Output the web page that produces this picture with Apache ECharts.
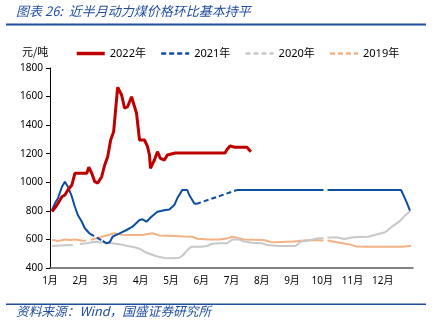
<!DOCTYPE html>
<html>
<head>
<meta charset="utf-8">
<script src="https://cdn.jsdelivr.net/npm/echarts@6/dist/echarts.min.js"></script>
<style>
html,body{margin:0;padding:0;background:#fff;}
#chart{width:435px;height:333px;}
</style>
</head>
<body>
<div id="chart"></div>
<script>
// ---- data (x = day of year) ----
const monthLabels = ['1月','2月','3月','4月','5月','6月','7月','8月','9月','10月','11月','12月'];
const seriesNames = ['2022年','2021年','2020年','2019年'];
const titleText = '图表 26:  近半月动力煤价格环比基本持平';
const sourceText = '资料来源：Wind，国盛证券研究所';
const unitText = '元/吨';

const days2022 = [2,7,12,15,18,22,25,28,37,39,42,45,48,52,55,58,61,64,68,72,75,78,82,84,87,90,95,98,100,101,102,105,108,111,115,118,123,126,150,176,178,181,186,198,202];
const price2022 = [794,841,899,911,946,981,1063,1063,1063,1105,1063,1004,995,1039,1121,1179,1296,1354,1665,1611,1518,1529,1599,1590,1483,1296,1296,1251,1191,1098,1098,1156,1214,1168,1156,1191,1200,1205,1205,1205,1230,1254,1245,1245,1214];

const days2021 = [2,5,8,12,15,18,22,25,28,32,35,40,46,53,57,60,63,70,77,83,90,93,97,102,108,116,120,125,128,133,138,140,145,147,167,188,230,275,277,279,320,353,358,362];
const price2021 = [806,853,888,969,1004,969,899,829,771,724,678,640,null,590,573,580,619,643,666,689,736,741,724,759,794,806,810,841,888,946,946,911,853,848,null,946,946,946,null,946,946,946,870,801];
const days2021Gap = [40,53,100,147,188];
const price2021Gap = [640,590,null,848,946];

const days2020 = [2,10,23,26,30,37,45,55,62,70,78,85,90,95,100,107,115,125,130,134,138,142,152,158,162,170,178,183,190,195,203,213,218,230,247,252,260,270,275,277,279,288,296,305,320,330,337,344,352,357,362];
const price2020 = [554,557,561,null,568,573,584,577,573,566,554,545,535,514,500,482,470,468,472,491,525,549,549,554,568,573,573,598,601,585,577,573,561,554,554,584,593,608,608,null,612,615,603,615,619,638,650,690,730,768,797];

const days2019 = [2,8,15,20,25,32,36,38,41,47,52,57,65,72,80,93,100,103,110,125,135,143,148,160,170,178,183,188,195,205,215,222,228,237,245,255,265,275,277,279,290,300,308,320,340,355,363];
const price2019 = [598,588,599,596,600,592,590,null,598,608,619,628,643,633,631,631,640,643,628,624,621,619,605,600,599,606,619,612,600,597,596,582,580,584,586,592,596,592,null,592,579,567,551,549,549,549,556];

const yMin = 400, yMax = 1800, yStep = 200;

function zip(d, v){ return d.map((x,i)=>[x, v[i] === null ? '-' : v[i]]); }

const FONT = '"Noto Sans","Noto Sans CJK SC",sans-serif';
const BLUE_T = '#1f4e9e';
const C22 = '#c00000', C21 = '#0d4ea3', C20 = '#c8c8c8', C19 = '#f4b183';

const chart = echarts.init(document.getElementById('chart'), null, {renderer:'canvas'});
chart.setOption({
  animation:false,
  backgroundColor:'#fff',
  textStyle:{fontFamily:FONT},
  grid:{left:50,right:22,top:68,bottom:65,containLabel:false,outerBoundsMode:'none'},
  legend:{
    left:70, top:43, itemWidth:28, itemHeight:10, itemGap:14,
    itemStyle:{opacity:0},
    textStyle:{fontSize:11,color:'#000',fontFamily:FONT},
    data:[
      {name:seriesNames[0], lineStyle:{width:3.5}},
      {name:seriesNames[1], lineStyle:{type:[5,3],width:2.5}},
      {name:seriesNames[2], lineStyle:{type:[5,3],width:2.5}},
      {name:seriesNames[3], lineStyle:{type:[5,3],width:2.5}}
    ]
  },
  xAxis:{
    type:'value', min:0, max:365, interval:365/12,
    axisLine:{show:true,lineStyle:{color:'#595959',width:1.5}},
    axisTick:{show:false},
    splitLine:{show:false},
    axisLabel:{fontSize:10,color:'#000',margin:8,showMaxLabel:false,
      formatter:function(v){const i=Math.round(v/(365/12));return i<12?monthLabels[i]:'';}}
  },
  yAxis:{
    type:'value', min:yMin, max:yMax, interval:yStep,
    axisLine:{show:true,lineStyle:{color:'#000',width:1}},
    axisTick:{show:true,length:4,lineStyle:{color:'#000'}},
    splitLine:{show:false},
    axisLabel:{fontSize:10,color:'#000',margin:7,formatter:function(v){return String(v);}}
  },
  graphic:[
    {type:'text',left:16,top:5,style:{text:titleText,fill:BLUE_T,font:'italic 13px "Noto Sans CJK SC"'}},
    {type:'rect',shape:{x:6,y:23.5,width:420,height:2},style:{fill:BLUE_T}},
    {type:'text',left:22,top:46,style:{text:unitText,fill:'#000',font:'11px "Noto Sans CJK SC"'}},
    {type:'rect',shape:{x:6,y:303.5,width:420,height:1.5},style:{fill:BLUE_T}},
    {type:'text',left:16,top:305,style:{text:sourceText,fill:BLUE_T,font:'italic 12.7px "Noto Sans CJK SC"'}}
  ],
  series:[
    {name:'2019年',type:'line',symbol:'none',data:zip(days2019,price2019),lineStyle:{color:C19,width:2},itemStyle:{color:C19},z:2},
    {name:'2020年',type:'line',symbol:'none',data:zip(days2020,price2020),lineStyle:{color:C20,width:2},itemStyle:{color:C20},z:2},
    {name:'2021年',type:'line',symbol:'none',data:zip(days2021,price2021),lineStyle:{color:C21,width:2},itemStyle:{color:C21},z:3},
    {name:'2021gap',type:'line',symbol:'none',data:zip(days2021Gap,price2021Gap),lineStyle:{color:C21,width:2,type:[5,3]},itemStyle:{color:C21},z:3},
    {name:'2022年',type:'line',symbol:'none',data:zip(days2022,price2022),lineStyle:{color:C22,width:3},itemStyle:{color:C22},z:4}
  ]
});
</script>
</body>
</html>
